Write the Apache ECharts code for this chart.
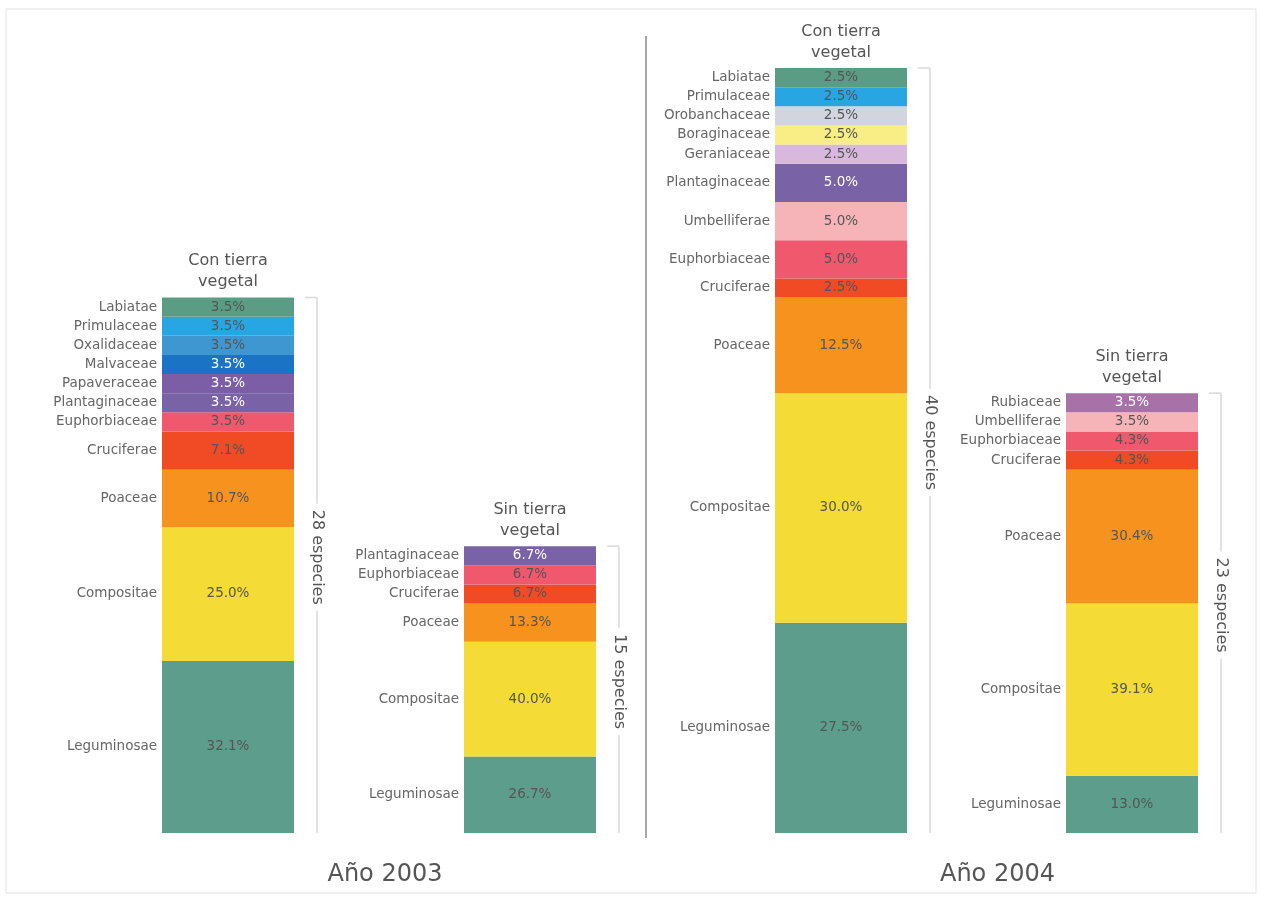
<!DOCTYPE html>
<html>
<head>
<meta charset="utf-8">
<script src="https://cdn.jsdelivr.net/npm/echarts@6/dist/echarts.min.js"></script>
<style>
html,body{margin:0;padding:0;background:#fff;}
#chart{width:1261px;height:897px;}
</style>
</head>
<body>
<div id="chart"></div>
<script>
// ---- Data (bottom segment first) ----
const yearLabels = ['Año 2003', 'Año 2004'];
const barHeaders = ['Con tierra\nvegetal', 'Sin tierra\nvegetal'];

const families03con = ['Leguminosae','Compositae','Poaceae','Cruciferae','Euphorbiaceae','Plantaginaceae','Papaveraceae','Malvaceae','Oxalidaceae','Primulaceae','Labiatae'];
const species03con  = [9, 7, 3, 2, 1, 1, 1, 1, 1, 1, 1];
const pct03con      = ['32.1%','25.0%','10.7%','7.1%','3.5%','3.5%','3.5%','3.5%','3.5%','3.5%','3.5%'];

const families03sin = ['Leguminosae','Compositae','Poaceae','Cruciferae','Euphorbiaceae','Plantaginaceae'];
const species03sin  = [4, 6, 2, 1, 1, 1];
const pct03sin      = ['26.7%','40.0%','13.3%','6.7%','6.7%','6.7%'];

const families04con = ['Leguminosae','Compositae','Poaceae','Cruciferae','Euphorbiaceae','Umbelliferae','Plantaginaceae','Geraniaceae','Boraginaceae','Orobanchaceae','Primulaceae','Labiatae'];
const species04con  = [11, 12, 5, 1, 2, 2, 2, 1, 1, 1, 1, 1];
const pct04con      = ['27.5%','30.0%','12.5%','2.5%','5.0%','5.0%','5.0%','2.5%','2.5%','2.5%','2.5%','2.5%'];

const families04sin = ['Leguminosae','Compositae','Poaceae','Cruciferae','Euphorbiaceae','Umbelliferae','Rubiaceae'];
const species04sin  = [3, 9, 7, 1, 1, 1, 1];
const pct04sin      = ['13.0%','39.1%','30.4%','4.3%','4.3%','3.5%','3.5%'];

// ---- Styles ----
const familyColors = {
  Leguminosae:'#5c9e8b', Compositae:'#f5db35', Poaceae:'#f7921e', Cruciferae:'#f04b25',
  Euphorbiaceae:'#f0586e', Plantaginaceae:'#7a62a6', Papaveraceae:'#7b5ea6', Malvaceae:'#1a73c4',
  Oxalidaceae:'#3f97d2', Primulaceae:'#28a6e4', Labiatae:'#5a9c84', Umbelliferae:'#f6b4b8',
  Geraniaceae:'#d8b8dc', Boraginaceae:'#f9ee86', Orobanchaceae:'#d2d4de', Rubiaceae:'#a672a8'
};
const whiteText = {Plantaginaceae:1, Papaveraceae:1, Malvaceae:1, Rubiaceae:1};
const FONT = 'DejaVu Sans';

const groups = [
  [ {f:families03con, v:species03con, p:pct03con}, {f:families03sin, v:species03sin, p:pct03sin} ],
  [ {f:families04con, v:species04con, p:pct04con}, {f:families04sin, v:species04sin, p:pct04sin} ]
];

const BAR_W = 132;
const series = [];
groups.forEach((grp, g) => {
  grp.forEach((bar, c) => {
    bar.f.forEach((name, j) => {
      const d = c === 0 ? [bar.v[j], '-'] : ['-', bar.v[j]];
      series.push({
        type:'bar', xAxisIndex:g, yAxisIndex:g, stack:'v'+g, barWidth:BAR_W, barGap:'-100%',
        data:d, silent:true,
        itemStyle:{color:familyColors[name]},
        label:{show:true, position:'inside', formatter:bar.p[j],
          color: whiteText[name] ? '#ffffff' : '#555555', fontFamily:FONT, fontSize:13.5},
        emphasis:{disabled:true}
      });
      series.push({
        type:'bar', xAxisIndex:g, yAxisIndex:g, stack:'n'+g, barWidth:BAR_W, barGap:'-100%',
        data:d, silent:true,
        itemStyle:{color:'rgba(0,0,0,0)'},
        label:{show:true, position:'left', distance:5, formatter:name,
          color:'#666666', fontFamily:FONT, fontSize:13.5},
        emphasis:{disabled:true}
      });
    });
  });
  const totals = grp.map((bar, c) => [c, bar.v.reduce((a, b) => a + b, 0)]);
  series.push({
    type:'custom', xAxisIndex:g, yAxisIndex:g, silent:true, data:totals, z:5,
    renderItem:(params, api) => {
      const cat = api.value(0), tot = api.value(1);
      const top = api.coord([cat, tot]);
      const bot = api.coord([cat, 0]);
      const x = top[0] + 89;
      const mid = (top[1] + bot[1]) / 2 - 8;
      return {type:'group', children:[
        {type:'line', shape:{x1:x, y1:top[1], x2:x, y2:bot[1]}, style:{stroke:'#d9d9d9', lineWidth:1.5}},
        {type:'line', shape:{x1:x-12, y1:top[1], x2:x, y2:top[1]}, style:{stroke:'#d9d9d9', lineWidth:1.5}},
        {type:'text', x:x, y:mid, rotation:-Math.PI/2,
          style:{text: tot + ' especies', fill:'#555', font:'16px "' + FONT + '"',
            align:'center', verticalAlign:'middle', backgroundColor:'#ffffff', padding:[2,6]}},
        {type:'text', x:top[0], y:top[1]-5,
          style:{text: barHeaders[cat], fill:'#555', font:'16px "' + FONT + '"',
            align:'center', verticalAlign:'bottom', lineHeight:21}}
      ]};
    }
  });
});

const option = {
  backgroundColor:'#ffffff',
  animation:false,
  grid:[
    {left:228, width:302, top:68, bottom:64},
    {left:841, width:291, top:68, bottom:64}
  ],
  xAxis:[0,1].map(g => ({
    type:'category', gridIndex:g, data:barHeaders, boundaryGap:false,
    axisLine:{show:false}, axisTick:{show:false}, axisLabel:{show:false}, splitLine:{show:false},
    name:yearLabels[g], nameLocation:'middle', nameGap:30,
    nameTextStyle:{fontFamily:FONT, fontSize:24, color:'#555', padding:[0,0,0, g===0 ? 12 : 22]}
  })),
  yAxis:[0,1].map(g => ({
    type:'value', gridIndex:g, min:0, max:40, show:false, splitLine:{show:false}
  })),
  graphic:[
    {type:'line', shape:{x1:646, y1:36, x2:646, y2:838}, style:{stroke:'#a8a8a8', lineWidth:2}, silent:true},
    {type:'rect', shape:{x:6, y:9, width:1250, height:884}, style:{fill:'none', stroke:'#e2e2e2', lineWidth:1}, silent:true, z:-1}
  ],
  series:series
};

const chart = echarts.init(document.getElementById('chart'), null, {renderer:'canvas'});
chart.setOption(option);
</script>
</body>
</html>
